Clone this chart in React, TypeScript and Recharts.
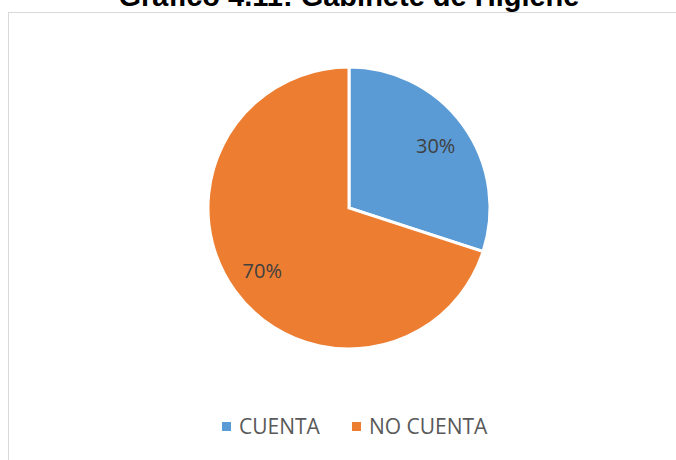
import React from 'react';
import { PieChart, Pie, Cell, Legend } from 'recharts';

const categories = ['CUENTA', 'NO CUENTA'];
const shares = [30, 70];
const colors = ['#5B9BD5', '#ED7D31'];

const data = categories.map((name, i) => ({ name, value: shares[i] }));

const RADIAN = Math.PI / 180;

const renderLabel = (props: any) => {
  const { cx, cy, midAngle, outerRadius, value } = props;
  const r = outerRadius * 0.76;
  const x = cx + r * Math.cos(-midAngle * RADIAN);
  const y = cy + r * Math.sin(-midAngle * RADIAN);
  return (
    <text x={x} y={y} fill="#404040" fontSize={20} fontFamily="'Open Sans', sans-serif" textAnchor="middle" dominantBaseline="central">
      {value}%
    </text>
  );
};

const renderLegend = (props: any) => {
  const { payload } = props;
  return (
    <div style={{ display: 'flex', alignItems: 'center', fontFamily: "'Open Sans', sans-serif", fontSize: 21, color: '#595959' }}>
      {payload.map((entry: any, i: number) => (
        <div key={entry.value} style={{ display: 'flex', alignItems: 'center', marginRight: i === 0 ? 32 : 0 }}>
          <span style={{ width: 9, height: 9, background: entry.color, display: 'inline-block', marginRight: 8 }} />
          <span>{entry.value}</span>
        </div>
      ))}
    </div>
  );
};

export default function App() {
  return (
    <div style={{ position: 'absolute', left: 0, top: 0, width: 676, height: 460, overflow: 'hidden', background: '#fff' }}>
      <div
        style={{
          position: 'absolute', left: 0, top: -21, width: 698, textAlign: 'center',
          fontFamily: "'Liberation Sans', Arial, sans-serif", fontWeight: 'bold', fontSize: 29, lineHeight: '34px', color: '#000',
        }}
      >
        Gráfico 4.11: Gabinete de Higiene
      </div>
      <div style={{ position: 'absolute', left: 8, top: 12, width: 700, height: 470, border: '1px solid #d9d9d9' }} />
      <div style={{ position: 'absolute', left: 0, top: 0 }}>
        <PieChart width={676} height={460} margin={{ top: 0, right: 0, bottom: 0, left: 0 }}>
          <Pie
            data={data}
            dataKey="value"
            nameKey="name"
            cx={349}
            cy={208}
            outerRadius={141}
            startAngle={90}
            endAngle={-270}
            stroke="#fff"
            strokeWidth={3}
            label={renderLabel}
            labelLine={false}
            isAnimationActive={false}
          >
            {data.map((d, i) => (
              <Cell key={d.name} fill={colors[i]} />
            ))}
          </Pie>
          <Legend content={renderLegend} wrapperStyle={{ position: 'absolute', left: 222, top: 412, width: 300 }} />
        </PieChart>
      </div>
    </div>
  );
}
